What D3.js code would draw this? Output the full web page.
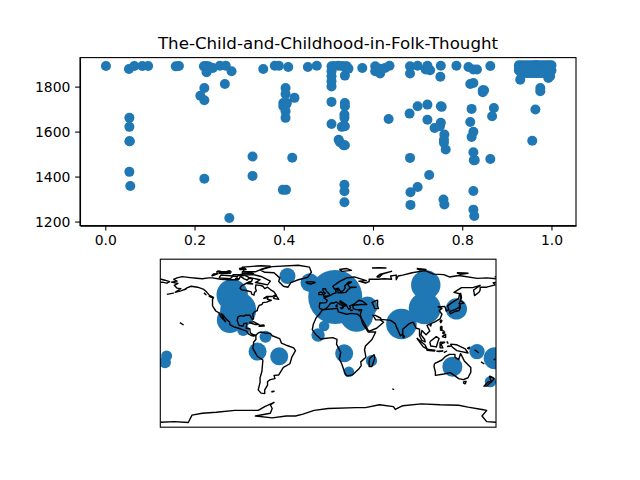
<!DOCTYPE html>
<html>
<head>
<meta charset="utf-8">
<script src="https://cdnjs.cloudflare.com/ajax/libs/d3/7.8.5/d3.min.js"></script>
<style>
  html, body { margin: 0; padding: 0; background: #fff; }
  svg { display: block; }
  text { font-family: "DejaVu Sans", sans-serif; fill: #000; }
  .tick text { font-size: 13.9px; }
  .tick line, .domain { stroke: #000; stroke-width: 1.1px; }
</style>
</head>
<body>
<div id="chart"></div>
<script>
const chartTitle = "The-Child-and-Childhood-in-Folk-Thought";
const xTicks = [0, 0.2, 0.4, 0.6, 0.8, 1.0];
const yTicks = [1200, 1400, 1600, 1800];

// top panel: position in text vs. year
const textPosition = [
  .0015,.053,.065,.083,.096,.158,.165,.221,.231,.227,.241,.257,.270,.283,.354,.380,.389,.410,.454,.474,
  .268,.222,.213,.222,.404,.404,.424,.399,.407,.399,.405,.404,.404,.054,.054,.054,.055,.054,.056,.222,
  .330,.330,.419,.398,.405,.278,
  .507,.522,.541,.537,.507,.507,.507,.507,.537,.576,.605,.612,.616,.627,.637,.605,.683,.683,.700,.722,
  .724,.728,.718,.752,.751,.787,.814,.825,.833,.863,.818,.825,.846,.849,.846,
  .927,.933,.940,.947,.954,.960,.966,.972,.978,.984,.990,.995,1.0,
  .927,.934,.941,.948,.955,.962,.969,.976,.983,.990,.997,
  .927,.933,.940,.947,.954,.960,.966,.972,.978,.984,.990,.995,1.0,
  .932,.939,.946,.953,.960,.967,.974,.981,.988,.995,
  .930,.993,.997,.975,.975,
  .507,.507,.537,.537,.536,.536,.530,.537,.523,.526,.534,.537,.635,.682,.700,.722,.752,.754,.722,.738,
  .752,.750,.760,.759,.759,.763,.683,.726,.700,.684,.684,.758,.760,.536,.536,.536,.821,.818,.825,.821,
  .825,.826,.828,.863,.825,.825,.827,.871,.867,.964,.957,
  .513,.530,.545,.225,.236,.612,.620
];
const publicationYear = [
  1892,1878,1892,1892,1892,1890,1892,1890,1890,1864,1883,1893,1893,1868,1878,1893,1893,1887,1887,1893,
  1812,1794,1759,1739,1794,1767,1750,1727,1727,1713,1720,1690,1661,1661,1621,1557,1557,1421,1358,1390,
  1489,1403,1484,1341,1341,1216,
  1890,1893,1890,1849,1868,1846,1824,1801,1890,1883,1890,1868,1858,1883,1893,1868,1890,1858,1893,1893,
  1876,1873,1876,1893,1844,1893,1887,1876,1876,1892,1812,1816,1784,1784,1775,
  1895,1895,1895,1895,1895,1895,1896,1895,1895,1895,1895,1895,1895,
  1885,1885,1885,1885,1885,1885,1885,1885,1885,1885,1885,
  1872,1872,1872,1872,1872,1872,1872,1872,1872,1872,1872,1872,1872,
  1860,1860,1860,1860,1860,1860,1860,1860,1860,1860,
  1831,1838,1846,1794,1779,
  1732,1634,1727,1713,1676,1661,1621,1624,1564,1553,1539,1539,1656,1680,1713,1720,1713,1710,1653,1616,
  1639,1624,1587,1564,1550,1520,1483,1407,1354,1330,1274,1298,1276,1364,1335,1286,1701,1643,1599,1576,
  1508,1473,1473,1478,1336,1253,1225,1705,1668,1698,1559,
  1892,1892,1880,1892,1885,1880,1878
];

// bottom panel: places mentioned
const placeLon = [-173.2,-175,-43.6,-102.9,-96.5,-105.4,-91.1,-67.2,-75.7,-52.5,-19.7,-4.3,-10.8,7.6,30.4,42.2,78.6,103.6,104.7,137.5,17.2,22.2,46.5,133.2,159.6,178.6,174];
const placeLat = [-13.7,-20.5,72,51.7,35.6,24.9,14.2,7,-9,-14,64.9,18.5,8.8,49.5,30.2,39.2,20.6,37.4,62.4,36.7,-10.8,-30.5,-18.7,-25.1,-9,-16.2,-41.2];
const placeCount = [30,36,64,246,324,169,36,36,81,81,86,28,45,729,279,100,234,256,216,114,81,28,32,100,59,121,32];

// coarse coastlines as [lon, lat] runs
const coastNorthAmerica = [[-166,68.3],[-162,70],[-156.5,71.3],[-148,70.3],[-141,69.6],[-135,69],[-128,70],[-124,70],[-115,68.5],[-108,68],[-100,68],[-96,68],[-94,71.5],[-90,69],[-87,67.5],[-85,69.5],[-81,69],[-82,66.5],[-87,64.5],[-93,61.5],[-94.5,59],[-92.5,57],[-88,56.5],[-82.5,55],[-82,52.5],[-79.5,51.5],[-79,54.5],[-77,56],[-78,59],[-77.5,62.5],[-73,62],[-70,61],[-68,58.5],[-65,60],[-62,57.5],[-58,55],[-56,52],[-60,50],[-66,50],[-69,48],[-64.5,49],[-65,47],[-61,46],[-66,44],[-70,43.5],[-71,41.5],[-74,40.5],[-75.5,37.5],[-76,35],[-79,33.5],[-81,31],[-80,26.5],[-81,25],[-82.8,28],[-84,30],[-89,30],[-90,29],[-94,29.5],[-97,28],[-97.5,24],[-95.5,19],[-91,18.5],[-90.5,21],[-87,21.5],[-88,16],[-84,15.5],[-83.5,11],[-80,9],[-77.5,8.5],[-80,7.5],[-83,8.5],[-85.5,10],[-87.5,13],[-92,14.5],[-96,16],[-101,17.5],[-105.5,20],[-105.5,22.5],[-109,25.5],[-112.5,30],[-114.7,31.5],[-112,26],[-110,23],[-112,25],[-115,28],[-117,32.5],[-120.5,34.5],[-124,40],[-124,47],[-123,49],[-127,51],[-130,54.5],[-134,58],[-140,60],[-147,61],[-152,59],[-153,58],[-158,56],[-164,54.5],[-158,58.5],[-162,59],[-165,62],[-161,64],[-168,65.5],[-162,66.5],[-166,68.3]];
const coastSouthAmerica = [[-77.5,8.5],[-75,11],[-72,12],[-68,11],[-62,10.5],[-60,8],[-52,5],[-50,0],[-44,-2.5],[-37,-5],[-35,-8],[-39,-15],[-41,-22],[-48,-26],[-53,-34],[-58,-34.5],[-57,-38],[-62,-39],[-65,-41],[-65,-45],[-68,-50],[-68,-54],[-72,-53.5],[-75,-50],[-73,-42],[-73,-37],[-71,-30],[-70,-18],[-76,-14],[-81,-5],[-80,-2],[-80,1],[-77.5,4],[-77.5,8.5]];
const coastAfrica = [[-6,35.8],[10,37.3],[11,33.5],[20,31],[25,32],[32,31],[32.5,30],[35,28],[37,21],[43,12],[51,12],[47,4],[40,-3],[39,-7],[40.5,-15],[35,-20],[35.5,-24],[32.5,-28],[26,-34],[20,-35],[18,-32],[14.5,-22],[12,-17],[13.5,-10],[9,-1],[9.5,4],[5,6],[-4,5],[-8,4.5],[-13,9],[-17,14.5],[-16,20],[-13,27],[-9.5,31],[-6,35.8]];
const coastEurasia = [[-9,37],[-9.5,39],[-9,43],[-2,43.5],[-1,46],[-4.5,48.5],[2,51],[5,53],[8.5,54],[8,57],[10.5,57.5],[10.5,54],[14,54],[19,54.5],[21,57],[24,59.5],[30,60],[23,60],[21,63],[25,65.5],[22,65.5],[17.5,61],[18.5,59.5],[16,56],[13,55.5],[11,59],[7,58],[5,61],[12,66],[20,70],[28,71],[41,67],[33,66.5],[40,64.5],[44,66],[44,68.5],[54,68.5],[60,69],[68,68.5],[67,72],[73,73],[73,68],[75,72],[80,73],[90,75.5],[104,77.7],[113,74],[124,73.5],[130,71],[140,72.5],[160,69.5],[170,70],[180,69]];
const coastEurasiaEast = [[180,65],[177,64.7],[179,62.5],[170,60],[163,60],[163,57],[162,54.8],[157,51],[156,57],[163,62],[155,59.5],[143,59.5],[135,54.5],[141,53],[140,48],[132,43],[128,40],[129.5,36],[126.5,34.5],[126,37],[125,39.5],[121.5,39],[118,39],[122,37],[119,35],[122,31],[120,26],[114,22.5],[110,21],[106,19],[109,13],[105,9],[100.5,13.5],[99.5,9],[103.5,4],[104,1.5],[100.5,3],[98,8],[98,15],[94.5,16],[91,22.5],[87,21],[80,15],[80,10],[77.5,8],[73,18],[72,21],[67,24.5],[57,25.5],[56,27],[50,30],[48,30],[51,25],[56,25],[59.5,22.5],[52,16],[43.5,12.7],[39,21],[35,28],[34.5,31],[36,36],[30,36],[27,37],[26.5,40],[29,41],[36,41.5],[41.5,41.5],[37,45],[33,46],[28,42],[26,41],[23,40],[24,38],[22.5,36.5],[21,38],[19.5,41],[13,45.5],[12.5,44],[16,41.5],[18.5,40],[16.5,39.5],[16,38],[15.5,40],[12,42],[10.5,43],[8.5,44.3],[6,43],[3,43],[0,39.5],[-2,37],[-5.5,36],[-9,37]];
const coastChukotka = [[-180,68.8],[-175,67.5],[-170,66],[-173,64.3],[-178,65.5],[-180,65]];
const coastAntarctica = [[-180,-84.7],[-165,-84],[-150,-85],[-146,-77],[-135,-75],[-120,-74],[-100,-72],[-75,-72],[-68,-68],[-58,-63.5],[-62,-66],[-60,-70],[-62,-75],[-78,-78],[-60,-80],[-45,-78],[-35,-78],[-27,-76],[-15,-72],[0,-70],[30,-69],[40,-69],[55,-66],[70,-68],[72,-71],[80,-67],[100,-65],[120,-66],[140,-66.5],[150,-68.5],[165,-71],[170,-72],[165,-78],[170,-84],[180,-84.7]];
const coastAustralia = [[114,-22],[122,-18],[126,-14],[130,-12],[136,-12],[136,-15],[140,-17.5],[142,-11],[146,-19],[153,-26],[153,-31],[150,-37],[145,-39],[140,-38],[136,-35],[131,-31.5],[124,-33],[115,-34.5],[115,-31],[113.5,-25],[114,-22]];
const coastIslands = [
  [[-73,78.5],[-60,82],[-32,83.5],[-20,81.5],[-18,76],[-22,70.5],[-32,68],[-40,65],[-43,60],[-48,61],[-53,66],[-52,70],[-58,75.5],[-68,76],[-73,78.5]],
  [[-80,73.5],[-72,71.5],[-62,66.5],[-65,62.5],[-72,64],[-78,65],[-73,68],[-85,70.5],[-90,73],[-80,73.5]],
  [[-117,70],[-105,69],[-102,72],[-115,73],[-117,70]],
  [[-125,72],[-118,74.5],[-123,74.3],[-125,72]],
  [[-90,76.5],[-78,76.5],[-72,79],[-62,82.5],[-72,83],[-92,81.5],[-90,76.5]],
  [[-92,74.5],[-80,74.5],[-82,75.7],[-92,76.5],[-92,74.5]],
  [[-117,75],[-105,75],[-108,76.5],[-116,76.5],[-117,75]],
  [[-95,79],[-88,79],[-90,81],[-95,80],[-95,79]],
  [[-102,72],[-97,71.5],[-96,73.5],[-102,73.5],[-102,72]],
  [[-95,72],[-90,72.5],[-92,74],[-95,73.5],[-95,72]],
  [[-100,69],[-96,69],[-98,70],[-100,69]],
  [[-110,76.5],[-104,76.2],[-106,77.8],[-110,76.5]],
  [[-120,76],[-115,77],[-118,77.5],[-120,76]],
  [[-87,64],[-81,63.5],[-85,65.5],[-87,64]],
  [[-59,48],[-53,47],[-56,51.5],[-59,48]],
  [[-128,50.5],[-124,48.5],[-125,50],[-128,50.5]],
  [[-133,54],[-131,52],[-132.5,53],[-133,54]],
  [[-154.5,57.3],[-152.5,58],[-154.5,57.3]],
  [[-173,52.3],[-166,53.6],[-173,52.3]],
  [[-85,22],[-80,23],[-74,20],[-78,20],[-85,22]],
  [[-74,19],[-69,19.5],[-68.5,18.5],[-74,18],[-74,19]],
  [[-159,22],[-155,19.5]],
  [[-61,-52],[-58,-51.5],[-59,-52],[-61,-52]],
  [[49.5,-12],[50,-16],[47,-25],[44,-25],[44,-20],[44.5,-16.5],[49.5,-12]],
  [[50,45],[53,46],[53,40],[54,37],[50,37],[49,40],[47,43.5],[50,45]],
  [[-5,50],[1,51],[1.5,52.5],[-2,56],[-3,58.5],[-6,58],[-5,55],[-3,53.5],[-5,52],[-5,50]],
  [[-6,52.2],[-6,54],[-8,55],[-10,54],[-10,52],[-6,52.2]],
  [[-24,65.5],[-18,66],[-14,65],[-18,63.5],[-22,64],[-24,65.5]],
  [[12,79],[20,80],[25,78],[15,77],[12,79]],
  [[47,80.5],[55,81],[62,80.5],[47,80.5]],
  [[52,71],[56,74],[68,77],[58,74],[55,71],[52,71]],
  [[95,80],[105,79],[98,78.5],[95,80]],
  [[138,75.5],[146,75.3],[150,75],[142,73.8],[138,75.5]],
  [[178.5,71],[180,71.4],[178.5,71]],
  [[13,38],[15.5,38],[15,36.8],[13,38]],
  [[8.5,41],[9.7,41],[9.5,39],[8.5,39],[8.5,41]],
  [[23.5,35.5],[26,35.2],[24,35],[23.5,35.5]],
  [[32.5,35],[34.5,35.5],[33.5,34.7],[32.5,35]],
  [[80,9.5],[82,7],[80.5,6],[80,9.5]],
  [[95,5.5],[104,-2],[106,-6],[102,-4],[95,5.5]],
  [[105.5,-6.5],[114.5,-7.5],[114,-8.5],[106,-7.5],[105.5,-6.5]],
  [[116,-8.5],[123,-8.3],[119,-9],[116,-8.5]],
  [[124,-10],[127,-8.5],[124,-10]],
  [[128,-3],[131,-3.3],[128,-3.5],[128,-3]],
  [[127.5,2],[128.5,0],[127.8,0.5],[127.5,2]],
  [[109,1.5],[116,7],[119,5],[117.5,1],[116,-4],[110,-3],[109,1.5]],
  [[120,1],[125,1],[121,-1],[123,-5],[120,-5],[120,1]],
  [[131,-1],[138,-1.7],[147,-6],[150,-10.5],[143,-9],[138,-8],[133,-4],[131,-1]],
  [[149,-5.5],[152,-4.3],[151,-6],[149,-5.5]],
  [[120.5,18],[122,18],[122,14],[124,13],[120.5,14],[120.5,18]],
  [[122,7],[126,9.5],[126,6],[122,7]],
  [[122.5,11],[125,12],[124,10],[122.5,11]],
  [[121,25],[122,24],[120.8,22],[120,23.5],[121,25]],
  [[108.8,19.5],[110.5,20],[110,18.4],[108.8,19.5]],
  [[130,34],[136,36],[140,38],[141.5,41],[142,39],[140.5,35],[136,34],[131,31.5],[130,34]],
  [[140,42],[142,45.5],[145.5,43],[141,42],[140,42]],
  [[142,54],[143,49],[142,46],[142,50],[142,54]],
  [[145,-41],[148,-41],[147,-43.5],[145.5,-43],[145,-41]],
  [[173,-35],[178,-38],[175,-41.5],[174,-39],[173,-35]],
  [[172,-41],[174,-42],[170,-46],[167,-46],[172,-41]],
  [[164,-20],[167,-22],[164,-20]],
  [[177.5,-18],[179,-17],[177.5,-18]],
  [[157,-7],[161,-10],[157,-7]],
  [[68.8,-49],[70.2,-49.4],[68.8,-49]]
];
const coastlines = [coastNorthAmerica, coastSouthAmerica, coastAfrica, coastEurasia, coastEurasiaEast,
  coastChukotka, coastAntarctica, coastAustralia, ...coastIslands];

const width = 640, height = 480;
const blue = "#1f77b4";
const margin = { left: 80, right: 576 };
const scatterTop = 57.6, scatterBottom = 225.6;
const mapLeft = 160.3, mapRight = 496, mapTop = 259.2, mapBottom = 427.2;

const svg = d3.select("#chart").append("svg")
  .attr("width", width)
  .attr("height", height)
  .attr("viewBox", "0 0 " + width + " " + height);

// scatter
const x = d3.scaleLinear().domain([-0.0567, 1.055]).range([margin.left, margin.right]);
const y = d3.scaleLinear().domain([1182, 1929]).range([scatterBottom, scatterTop]);

svg.append("g")
  .selectAll("circle")
  .data(textPosition)
  .enter().append("circle")
  .attr("cx", d => x(d))
  .attr("cy", (d, i) => y(publicationYear[i]))
  .attr("r", 5)
  .attr("fill", blue);

const xAxis = d3.axisBottom(x).tickValues(xTicks).tickFormat(d3.format(".1f")).tickSize(4.9).tickSizeOuter(0).tickPadding(4.8);
const yAxis = d3.axisLeft(y).tickValues(yTicks).tickFormat(d3.format("d")).tickSize(4.9).tickSizeOuter(0).tickPadding(4.8);

svg.append("g")
  .attr("transform", "translate(0," + scatterBottom + ")")
  .call(xAxis);
svg.append("g")
  .attr("transform", "translate(" + margin.left + ",0)")
  .call(yAxis);

svg.append("rect")
  .attr("x", margin.left).attr("y", scatterTop)
  .attr("width", margin.right - margin.left).attr("height", scatterBottom - scatterTop)
  .attr("fill", "none").attr("stroke", "#000").attr("stroke-width", 1.1);

svg.append("text")
  .attr("x", (margin.left + margin.right) / 2)
  .attr("y", 49)
  .attr("text-anchor", "middle")
  .style("font-size", "16.67px")
  .text(chartTitle);

// map
const lon = d3.scaleLinear().domain([-180, 180]).range([mapLeft, mapRight]);
const lat = d3.scaleLinear().domain([-90, 90]).range([mapBottom, mapTop]);
const radius = d3.scaleSqrt().domain([0, 100]).range([0, 10]);

svg.append("clipPath").attr("id", "map-clip")
  .append("rect")
  .attr("x", mapLeft).attr("y", mapTop)
  .attr("width", mapRight - mapLeft).attr("height", mapBottom - mapTop);

const mapGroup = svg.append("g").attr("clip-path", "url(#map-clip)");

mapGroup.selectAll("circle")
  .data(placeCount)
  .enter().append("circle")
  .attr("cx", (d, i) => lon(placeLon[i]))
  .attr("cy", (d, i) => lat(placeLat[i]))
  .attr("r", d => radius(d))
  .attr("fill", blue);

const coastLine = d3.line().x(d => lon(d[0])).y(d => lat(d[1]));

mapGroup.selectAll("path")
  .data(coastlines)
  .enter().append("path")
  .attr("d", coastLine)
  .attr("fill", "none")
  .attr("stroke", "#000")
  .attr("stroke-width", 1.4)
  .attr("stroke-linejoin", "round");

svg.append("rect")
  .attr("x", mapLeft).attr("y", mapTop)
  .attr("width", mapRight - mapLeft).attr("height", mapBottom - mapTop)
  .attr("fill", "none").attr("stroke", "#000").attr("stroke-width", 1.1);
</script>
</body>
</html>
